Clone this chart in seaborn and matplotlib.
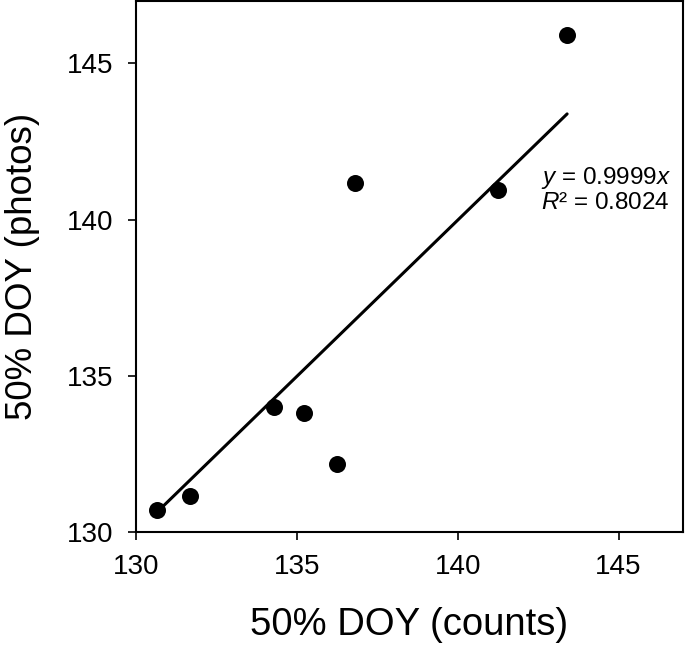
import seaborn as sns
import pandas as pd
import numpy as np
import matplotlib.pyplot as plt

# 50% DOY values
counts = [130.65, 131.67, 134.3, 135.23, 136.25, 136.8, 141.24, 143.4]
photos = [130.7, 131.15, 134.0, 133.8, 132.17, 141.16, 140.94, 145.9]
slope = 0.9999
r2 = 0.8024


def make_plot(df):
    sns.set_theme(style='ticks')
    plt.rcParams['font.family'] = ['Liberation Sans', 'DejaVu Sans']
    plt.rcParams['mathtext.fontset'] = 'custom'
    plt.rcParams['mathtext.it'] = 'Liberation Sans:italic'
    plt.rcParams['mathtext.rm'] = 'Liberation Sans'
    plt.rcParams['text.color'] = 'black'
    plt.rcParams['axes.labelcolor'] = 'black'

    fig = plt.figure(figsize=(6.85, 6.49), dpi=100)
    ax = fig.add_axes([0.1985, 0.180, 0.7985, 0.8185])

    sns.scatterplot(data=df, x='counts', y='photos', ax=ax, color='black',
                    s=150, edgecolor='black', linewidth=0, zorder=3)

    # trend line forced through origin
    xs = np.array([df['counts'].min(), df['counts'].max()])
    ax.plot(xs, slope * xs, color='black', linewidth=2.2, zorder=2)

    ax.text(0.74, 0.667, r'$\it{y}$ = ' + f'{slope}' + r'$\it{x}$', transform=ax.transAxes,
            fontsize=17.5, va='center')
    ax.text(0.74, 0.619, r'$\it{R}$² = ' + f'{r2}', transform=ax.transAxes,
            fontsize=17.5, va='center')

    ax.set_xlim(130, 147)
    ax.set_ylim(130, 147)
    ax.set_xticks([130, 135, 140, 145])
    ax.set_yticks([130, 135, 140, 145])
    ax.tick_params(axis='both', labelsize=20, length=6, width=1.2, color='black',
                   labelcolor='black', pad=10)
    for sp in ax.spines.values():
        sp.set_visible(True)
        sp.set_color('black')
        sp.set_linewidth(1.5)

    ax.set_xlabel('50% DOY (counts)', fontsize=27.5)
    ax.set_ylabel('50% DOY (photos)', fontsize=26.5)
    ax.xaxis.set_label_coords(0.5, -0.14)
    ax.yaxis.set_label_coords(-0.176, 0.5)

    plt.savefig('out.png', dpi=100)
    plt.close()


def main():
    df = pd.DataFrame({'counts': counts, 'photos': photos})
    make_plot(df)


if __name__ == '__main__':
    main()
